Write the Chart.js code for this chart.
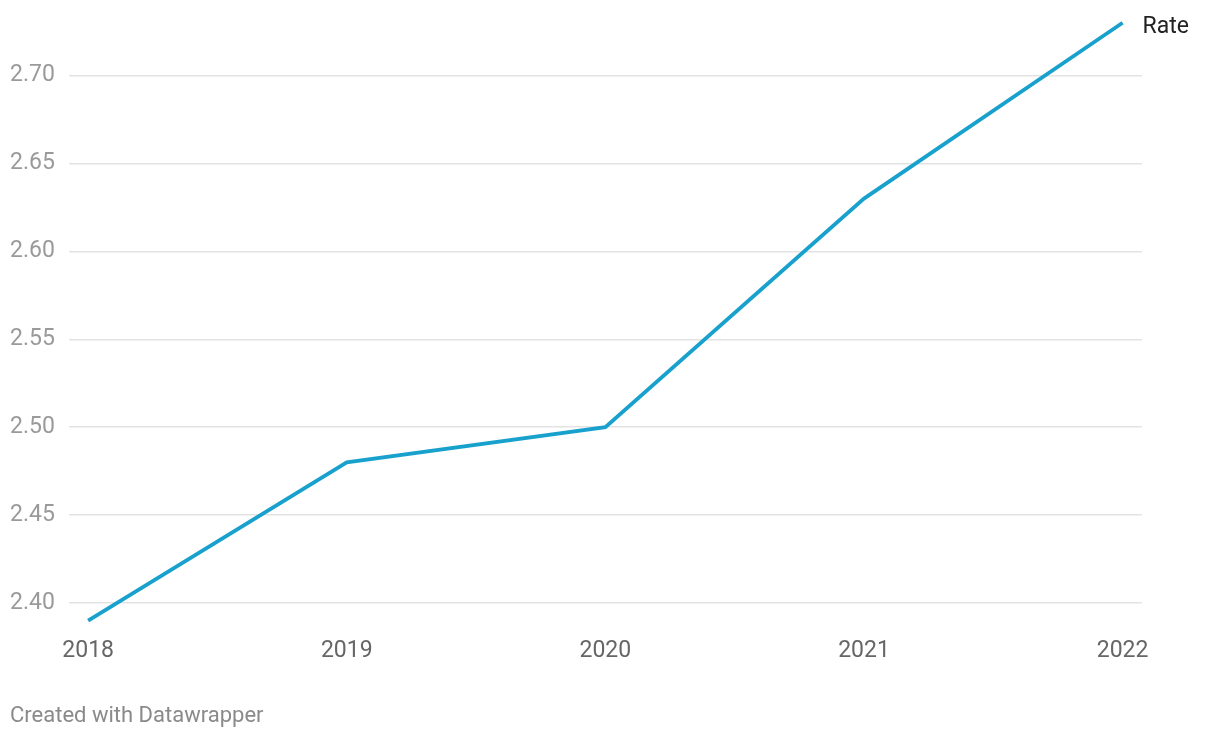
<!DOCTYPE html>
<html>
<head>
<meta charset="utf-8">
<script src="https://cdn.jsdelivr.net/npm/chart.js@4/dist/chart.umd.min.js"></script>
<style>
  html, body { margin: 0; padding: 0; background: #fff; }
  #wrap { position: relative; width: 1220px; height: 738px; }
  #footer { position: absolute; left: 10px; top: 702px; font: 22px Roboto, sans-serif; color: #8a8a8a; }
</style>
</head>
<body>
<div id="wrap">
  <canvas id="chartRate" width="1220" height="738"></canvas>
  <div id="footer">Created with Datawrapper</div>
</div>
<script>
const years = [2018, 2019, 2020, 2021, 2022];
const rateValues = [2.39, 2.48, 2.50, 2.63, 2.73];
const yTicks = [2.40, 2.45, 2.50, 2.55, 2.60, 2.65, 2.70];
const seriesName = 'Rate';

const lineColor = '#18a1cd';

// label at the end of the line
const endLabel = {
  id: 'endLabel',
  afterDatasetsDraw(chart) {
    const meta = chart.getDatasetMeta(0);
    const last = meta.data[meta.data.length - 1];
    const ctx = chart.ctx;
    ctx.save();
    ctx.font = '23px Roboto, sans-serif';
    ctx.fillStyle = '#222';
    ctx.textBaseline = 'middle';
    ctx.fillText(seriesName, last.x + 20, last.y + 4);
    ctx.restore();
  }
};

new Chart(document.getElementById('chartRate'), {
  type: 'line',
  data: {
    datasets: [{
      label: seriesName,
      data: years.map((y, i) => ({ x: y, y: rateValues[i] })),
      borderColor: lineColor,
      borderWidth: 3.8,
      pointRadius: 0,
      tension: 0,
      fill: false
    }]
  },
  options: {
    responsive: false,
    animation: false,
    layout: { padding: { top: 14, right: 78, bottom: 68.6, left: 10 } },
    plugins: { legend: { display: false }, tooltip: { enabled: false } },
    scales: {
      x: {
        type: 'linear',
        min: 2017.926,
        max: 2022.075,
        afterBuildTicks: s => { s.ticks = years.map(v => ({ value: v })); },
        afterFit: s => { s.height = 40; s.paddingLeft = 0; s.paddingRight = 0; },
        grid: { display: false },
        border: { display: false },
        ticks: {
          padding: 0,
          color: '#666',
          font: { family: 'Roboto', size: 23 },
          callback: v => String(v),
          maxRotation: 0
        }
      },
      y: {
        min: 2.385,
        max: 2.735,
        afterBuildTicks: s => { s.ticks = yTicks.map(v => ({ value: v })); },
        afterFit: s => { s.width = 59; s.paddingTop = 0; s.paddingBottom = 0; },
        grid: { color: '#e3e3e3', lineWidth: 1.5, drawTicks: false },
        border: { display: false },
        ticks: {
          crossAlign: 'far',
          padding: 12,
          color: '#9a9a9a',
          font: { family: 'Roboto', size: 23 },
          callback: v => v.toFixed(2)
        }
      }
    }
  },
  plugins: [endLabel]
});
</script>
</body>
</html>
